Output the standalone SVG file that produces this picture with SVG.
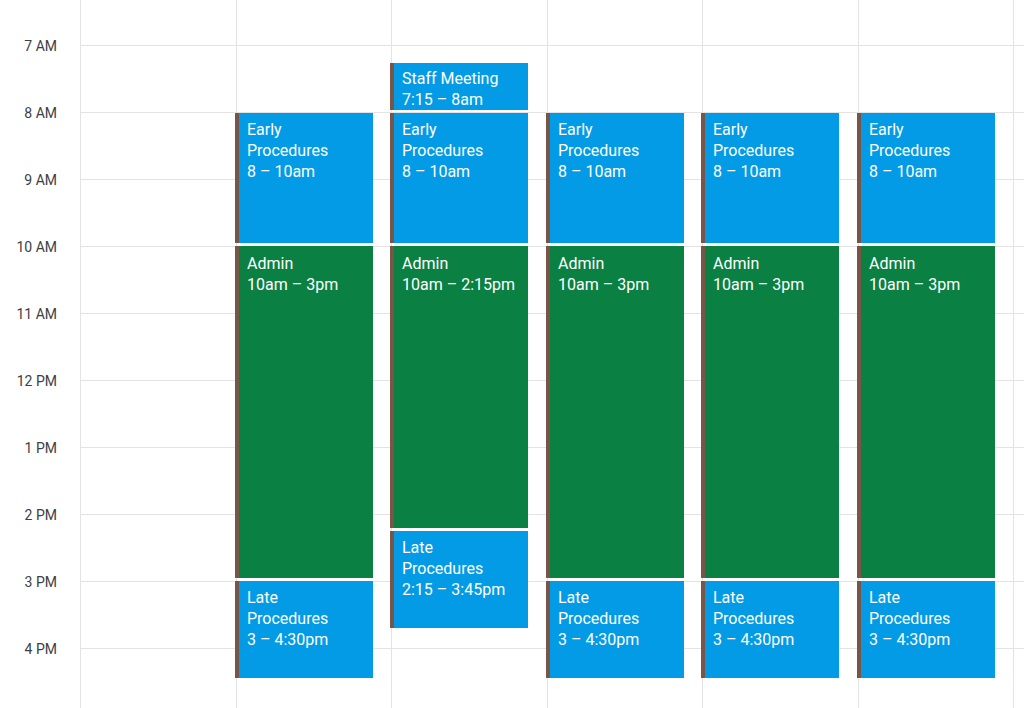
<svg xmlns="http://www.w3.org/2000/svg" width="1024" height="708" viewBox="0 0 1024 708">
<style>
.g{stroke:#e3e3e3;stroke-width:1}
.t{font-family:Roboto,"Liberation Sans",sans-serif;font-size:14px;fill:#3c4043;text-anchor:end}
.e{font-family:Roboto,"Liberation Sans",sans-serif;font-size:16px;fill:#fff}
.b{fill:#039be5}.n{fill:#0b8043}.s{fill:#795548}
</style>
<rect width="1024" height="708" fill="#fff"/>
<g id="grid">
<line class="g" x1="80" y1="45.5" x2="1024" y2="45.5"/><line class="g" x1="80" y1="112.5" x2="1024" y2="112.5"/><line class="g" x1="80" y1="179.5" x2="1024" y2="179.5"/><line class="g" x1="80" y1="246.5" x2="1024" y2="246.5"/><line class="g" x1="80" y1="313.5" x2="1024" y2="313.5"/><line class="g" x1="80" y1="380.5" x2="1024" y2="380.5"/><line class="g" x1="80" y1="447.5" x2="1024" y2="447.5"/><line class="g" x1="80" y1="514.5" x2="1024" y2="514.5"/><line class="g" x1="80" y1="581.5" x2="1024" y2="581.5"/><line class="g" x1="80" y1="648.5" x2="1024" y2="648.5"/>
<line class="g" x1="80.5" y1="0" x2="80.5" y2="708"/><line class="g" x1="236.5" y1="0" x2="236.5" y2="708"/><line class="g" x1="391.5" y1="0" x2="391.5" y2="708"/><line class="g" x1="547.5" y1="0" x2="547.5" y2="708"/><line class="g" x1="702.5" y1="0" x2="702.5" y2="708"/><line class="g" x1="858.5" y1="0" x2="858.5" y2="708"/><line class="g" x1="1013.5" y1="0" x2="1013.5" y2="708"/>
</g>
<g id="times">
<text class="t" x="57" y="51">7 AM</text><text class="t" x="57" y="118">8 AM</text><text class="t" x="57" y="185">9 AM</text><text class="t" x="57" y="252">10 AM</text><text class="t" x="57" y="319">11 AM</text><text class="t" x="57" y="386">12 PM</text><text class="t" x="57" y="453">1 PM</text><text class="t" x="57" y="520">2 PM</text><text class="t" x="57" y="587">3 PM</text><text class="t" x="57" y="654">4 PM</text>
</g>
<defs>
<clipPath id="c1"><rect x="0" y="0" width="138" height="1000" rx="7"/></clipPath>
</defs>
<g id="col2" transform="translate(235,0)">
<g id="early2" clip-path="url(#c1)"><rect class="s" x="0" y="113" width="138" height="130"/><rect class="b" x="4" y="113" width="134" height="130"/><text class="e" x="12" y="135">Early</text><text class="e" x="12" y="156">Procedures</text><text class="e" x="12" y="177">8 – 10am</text></g>
<g id="admin2" clip-path="url(#c1)"><rect class="s" x="0" y="246" width="138" height="332"/><rect class="n" x="4" y="246" width="134" height="332"/><text class="e" x="12" y="269">Admin</text><text class="e" x="12" y="290">10am – 3pm</text></g>
<g id="late2" clip-path="url(#c1)"><rect class="s" x="0" y="581" width="138" height="97"/><rect class="b" x="4" y="581" width="134" height="97"/><text class="e" x="12" y="603">Late</text><text class="e" x="12" y="624">Procedures</text><text class="e" x="12" y="645">3 – 4:30pm</text></g>
</g>
<g id="col3" transform="translate(390,0)">
<g id="staff3" clip-path="url(#c1)"><rect class="s" x="0" y="63" width="138" height="47"/><rect class="b" x="4" y="63" width="134" height="47"/><text class="e" x="12" y="84">Staff Meeting</text><text class="e" x="12" y="105">7:15 – 8am</text></g>
<g id="early3" clip-path="url(#c1)"><rect class="s" x="0" y="113" width="138" height="130"/><rect class="b" x="4" y="113" width="134" height="130"/><text class="e" x="12" y="135">Early</text><text class="e" x="12" y="156">Procedures</text><text class="e" x="12" y="177">8 – 10am</text></g>
<g id="admin3" clip-path="url(#c1)"><rect class="s" x="0" y="246" width="138" height="282"/><rect class="n" x="4" y="246" width="134" height="282"/><text class="e" x="12" y="269">Admin</text><text class="e" x="12" y="290">10am – 2:15pm</text></g>
<g id="late3" clip-path="url(#c1)"><rect class="s" x="0" y="531" width="138" height="97"/><rect class="b" x="4" y="531" width="134" height="97"/><text class="e" x="12" y="553">Late</text><text class="e" x="12" y="574">Procedures</text><text class="e" x="12" y="595">2:15 – 3:45pm</text></g>
</g>
<g id="col4" transform="translate(546,0)">
<g id="early4" clip-path="url(#c1)"><rect class="s" x="0" y="113" width="138" height="130"/><rect class="b" x="4" y="113" width="134" height="130"/><text class="e" x="12" y="135">Early</text><text class="e" x="12" y="156">Procedures</text><text class="e" x="12" y="177">8 – 10am</text></g>
<g id="admin4" clip-path="url(#c1)"><rect class="s" x="0" y="246" width="138" height="332"/><rect class="n" x="4" y="246" width="134" height="332"/><text class="e" x="12" y="269">Admin</text><text class="e" x="12" y="290">10am – 3pm</text></g>
<g id="late4" clip-path="url(#c1)"><rect class="s" x="0" y="581" width="138" height="97"/><rect class="b" x="4" y="581" width="134" height="97"/><text class="e" x="12" y="603">Late</text><text class="e" x="12" y="624">Procedures</text><text class="e" x="12" y="645">3 – 4:30pm</text></g>
</g>
<g id="col5" transform="translate(701,0)">
<g id="early5" clip-path="url(#c1)"><rect class="s" x="0" y="113" width="138" height="130"/><rect class="b" x="4" y="113" width="134" height="130"/><text class="e" x="12" y="135">Early</text><text class="e" x="12" y="156">Procedures</text><text class="e" x="12" y="177">8 – 10am</text></g>
<g id="admin5" clip-path="url(#c1)"><rect class="s" x="0" y="246" width="138" height="332"/><rect class="n" x="4" y="246" width="134" height="332"/><text class="e" x="12" y="269">Admin</text><text class="e" x="12" y="290">10am – 3pm</text></g>
<g id="late5" clip-path="url(#c1)"><rect class="s" x="0" y="581" width="138" height="97"/><rect class="b" x="4" y="581" width="134" height="97"/><text class="e" x="12" y="603">Late</text><text class="e" x="12" y="624">Procedures</text><text class="e" x="12" y="645">3 – 4:30pm</text></g>
</g>
<g id="col6" transform="translate(857,0)">
<g id="early6" clip-path="url(#c1)"><rect class="s" x="0" y="113" width="138" height="130"/><rect class="b" x="4" y="113" width="134" height="130"/><text class="e" x="12" y="135">Early</text><text class="e" x="12" y="156">Procedures</text><text class="e" x="12" y="177">8 – 10am</text></g>
<g id="admin6" clip-path="url(#c1)"><rect class="s" x="0" y="246" width="138" height="332"/><rect class="n" x="4" y="246" width="134" height="332"/><text class="e" x="12" y="269">Admin</text><text class="e" x="12" y="290">10am – 3pm</text></g>
<g id="late6" clip-path="url(#c1)"><rect class="s" x="0" y="581" width="138" height="97"/><rect class="b" x="4" y="581" width="134" height="97"/><text class="e" x="12" y="603">Late</text><text class="e" x="12" y="624">Procedures</text><text class="e" x="12" y="645">3 – 4:30pm</text></g>
</g>
</svg>
